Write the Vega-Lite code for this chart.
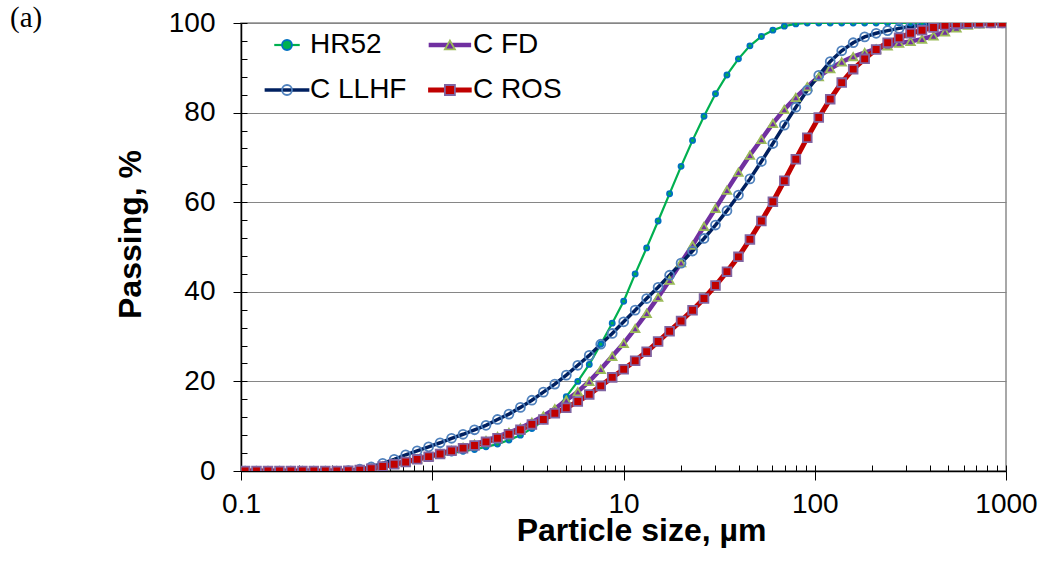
{
  "$schema": "https://vega.github.io/schema/vega-lite/v6.json",
  "width": 765,
  "height": 448,
  "autosize": {"type": "none"},
  "padding": {"left": 241, "top": 23, "right": 40, "bottom": 93},
  "background": "white",
  "title": {"text": "(a)", "anchor": "start", "frame": "group", "orient": "top", "offset": 0, "dx": -231, "dy": 53, "baseline": "bottom", "font": "Liberation Serif", "fontSize": 29, "fontWeight": "normal", "color": "black"},
  "config": {
    "view": {"stroke": "#8c8c8c", "strokeWidth": 1.5},
    "axis": {"labelFont": "Liberation Sans", "titleFont": "Liberation Sans", "labelColor": "black", "titleColor": "black"},
    "legend": {"labelFont": "Liberation Sans", "labelColor": "black", "labelFontSize": 28, "labelLimit": 300}
  },
  "data": {
    "values": [
      {"x": 0.105, "HR52": 0, "C FD": 0, "C LLHF": 0, "C ROS": 0},
      {"x": 0.1205, "HR52": 0, "C FD": 0, "C LLHF": 0, "C ROS": 0},
      {"x": 0.1384, "HR52": 0, "C FD": 0, "C LLHF": 0, "C ROS": 0},
      {"x": 0.1589, "HR52": 0, "C FD": 0, "C LLHF": 0, "C ROS": 0},
      {"x": 0.1824, "HR52": 0, "C FD": 0, "C LLHF": 0, "C ROS": 0},
      {"x": 0.2094, "HR52": 0, "C FD": 0, "C LLHF": 0, "C ROS": 0},
      {"x": 0.2404, "HR52": 0, "C FD": 0, "C LLHF": 0, "C ROS": 0},
      {"x": 0.2761, "HR52": 0, "C FD": 0, "C LLHF": 0, "C ROS": 0},
      {"x": 0.317, "HR52": 0, "C FD": 0, "C LLHF": 0, "C ROS": 0},
      {"x": 0.3639, "HR52": 0, "C FD": 0, "C LLHF": 0.1, "C ROS": 0.05},
      {"x": 0.4178, "HR52": 0.2, "C FD": 0.2, "C LLHF": 0.4, "C ROS": 0.2},
      {"x": 0.4797, "HR52": 0.6, "C FD": 0.6, "C LLHF": 0.9, "C ROS": 0.5},
      {"x": 0.5508, "HR52": 1.1, "C FD": 1.1, "C LLHF": 1.7, "C ROS": 1.0},
      {"x": 0.6324, "HR52": 1.5, "C FD": 1.6, "C LLHF": 2.6, "C ROS": 1.5},
      {"x": 0.7261, "HR52": 1.9, "C FD": 2.1, "C LLHF": 3.6, "C ROS": 2.0},
      {"x": 0.8337, "HR52": 2.4, "C FD": 2.7, "C LLHF": 4.5, "C ROS": 2.6},
      {"x": 0.9572, "HR52": 3.0, "C FD": 3.3, "C LLHF": 5.4, "C ROS": 3.2},
      {"x": 1.099, "HR52": 3.5, "C FD": 3.9, "C LLHF": 6.3, "C ROS": 3.8},
      {"x": 1.2618, "HR52": 4.0, "C FD": 4.6, "C LLHF": 7.3, "C ROS": 4.5},
      {"x": 1.4488, "HR52": 4.4, "C FD": 5.3, "C LLHF": 8.2, "C ROS": 5.1},
      {"x": 1.6634, "HR52": 4.8, "C FD": 6.0, "C LLHF": 9.2, "C ROS": 5.7},
      {"x": 1.9099, "HR52": 5.4, "C FD": 6.8, "C LLHF": 10.2, "C ROS": 6.5},
      {"x": 2.1928, "HR52": 6.0, "C FD": 7.7, "C LLHF": 11.5, "C ROS": 7.3},
      {"x": 2.5177, "HR52": 6.9, "C FD": 8.6, "C LLHF": 12.7, "C ROS": 8.2},
      {"x": 2.8907, "HR52": 8.0, "C FD": 9.6, "C LLHF": 14.2, "C ROS": 9.2},
      {"x": 3.3189, "HR52": 9.5, "C FD": 10.9, "C LLHF": 15.8, "C ROS": 10.4},
      {"x": 3.8107, "HR52": 11.2, "C FD": 12.3, "C LLHF": 17.6, "C ROS": 11.5},
      {"x": 4.3752, "HR52": 13.4, "C FD": 13.9, "C LLHF": 19.4, "C ROS": 12.9},
      {"x": 5.0234, "HR52": 16.6, "C FD": 15.8, "C LLHF": 21.4, "C ROS": 14.1},
      {"x": 5.7677, "HR52": 20.0, "C FD": 17.7, "C LLHF": 23.6, "C ROS": 15.5},
      {"x": 6.6222, "HR52": 23.8, "C FD": 20.0, "C LLHF": 25.8, "C ROS": 17.1},
      {"x": 7.6033, "HR52": 28.3, "C FD": 22.7, "C LLHF": 28.3, "C ROS": 19.0},
      {"x": 8.7297, "HR52": 33.0, "C FD": 25.6, "C LLHF": 30.7, "C ROS": 20.9},
      {"x": 10.023, "HR52": 37.9, "C FD": 28.5, "C LLHF": 33.3, "C ROS": 22.7},
      {"x": 11.508, "HR52": 44.0, "C FD": 31.8, "C LLHF": 35.9, "C ROS": 24.6},
      {"x": 13.213, "HR52": 49.8, "C FD": 35.2, "C LLHF": 38.5, "C ROS": 26.6},
      {"x": 15.171, "HR52": 55.8, "C FD": 38.8, "C LLHF": 41.0, "C ROS": 28.9},
      {"x": 17.419, "HR52": 61.9, "C FD": 42.6, "C LLHF": 43.7, "C ROS": 31.2},
      {"x": 19.999, "HR52": 68.0, "C FD": 46.5, "C LLHF": 46.4, "C ROS": 33.5},
      {"x": 22.963, "HR52": 73.8, "C FD": 50.4, "C LLHF": 49.1, "C ROS": 35.9},
      {"x": 26.363, "HR52": 79.2, "C FD": 54.6, "C LLHF": 51.9, "C ROS": 38.5},
      {"x": 30.269, "HR52": 84.2, "C FD": 58.6, "C LLHF": 54.9, "C ROS": 41.4},
      {"x": 34.754, "HR52": 88.4, "C FD": 62.7, "C LLHF": 58.1, "C ROS": 44.5},
      {"x": 39.902, "HR52": 92.0, "C FD": 66.7, "C LLHF": 61.6, "C ROS": 47.8},
      {"x": 45.814, "HR52": 94.9, "C FD": 70.5, "C LLHF": 65.2, "C ROS": 51.7},
      {"x": 52.602, "HR52": 97.0, "C FD": 74.0, "C LLHF": 69.1, "C ROS": 55.8},
      {"x": 60.395, "HR52": 98.4, "C FD": 77.6, "C LLHF": 73.1, "C ROS": 60.1},
      {"x": 69.343, "HR52": 99.3, "C FD": 80.7, "C LLHF": 77.2, "C ROS": 64.8},
      {"x": 79.616, "HR52": 99.8, "C FD": 83.4, "C LLHF": 81.2, "C ROS": 69.6},
      {"x": 91.411, "HR52": 100, "C FD": 85.8, "C LLHF": 85.0, "C ROS": 74.4},
      {"x": 104.95, "HR52": 100, "C FD": 88.0, "C LLHF": 88.3, "C ROS": 78.9},
      {"x": 120.5, "HR52": 100, "C FD": 89.8, "C LLHF": 91.4, "C ROS": 83.0},
      {"x": 138.36, "HR52": 100, "C FD": 91.3, "C LLHF": 93.8, "C ROS": 86.7},
      {"x": 158.85, "HR52": 100, "C FD": 92.5, "C LLHF": 95.6, "C ROS": 89.7},
      {"x": 182.39, "HR52": 100, "C FD": 93.4, "C LLHF": 96.9, "C ROS": 92.0},
      {"x": 209.41, "HR52": 100, "C FD": 94.2, "C LLHF": 97.7, "C ROS": 94.1},
      {"x": 240.44, "HR52": 100, "C FD": 94.9, "C LLHF": 98.3, "C ROS": 95.6},
      {"x": 276.06, "HR52": 100, "C FD": 95.5, "C LLHF": 98.8, "C ROS": 96.7},
      {"x": 316.96, "HR52": 100, "C FD": 95.9, "C LLHF": 99.2, "C ROS": 97.7},
      {"x": 363.92, "HR52": 100, "C FD": 96.4, "C LLHF": 99.5, "C ROS": 98.4},
      {"x": 417.83, "HR52": 100, "C FD": 97.1, "C LLHF": 99.7, "C ROS": 99.0},
      {"x": 479.73, "HR52": 100, "C FD": 98.0, "C LLHF": 99.8, "C ROS": 99.5},
      {"x": 550.81, "HR52": 100, "C FD": 98.9, "C LLHF": 99.9, "C ROS": 99.8},
      {"x": 632.41, "HR52": 100, "C FD": 99.5, "C LLHF": 100, "C ROS": 99.9},
      {"x": 726.11, "HR52": 100, "C FD": 99.8, "C LLHF": 100, "C ROS": 100},
      {"x": 833.68, "HR52": 100, "C FD": 100, "C LLHF": 100, "C ROS": 100},
      {"x": 957.19, "HR52": 100, "C FD": 100, "C LLHF": 100, "C ROS": 100}
    ]
  },
  "transform": [
    {"fold": ["HR52", "C FD", "C LLHF", "C ROS"], "as": ["series", "y"]}
  ],
  "layer": [
    {
      "mark": {"type": "line", "clip": true},
      "encoding": {
        "x": {
          "field": "x", "type": "quantitative",
          "scale": {"type": "log", "domain": [0.1, 1000]},
          "axis": {
            "values": [0.1, 1, 10, 100, 1000], "format": "~g",
            "labelFlush": false, "labelOverlap": false, "labelFontSize": 28,
            "tickSize": 9, "tickColor": "black", "tickWidth": 1,
            "labelPadding": 10, "domainColor": "black", "domainWidth": 1.5,
            "grid": false,
            "title": "Particle size, µm", "titleFontSize": 32, "titleFontWeight": "bold",
            "titleX": 400, "titleY": 44
          }
        },
        "y": {
          "field": "y", "type": "quantitative",
          "scale": {"domain": [0, 100]},
          "axis": {
            "values": [0, 20, 40, 60, 80, 100],
            "labelFlush": false, "labelOverlap": false, "labelFontSize": 28,
            "tickSize": 8, "tickColor": "black", "tickWidth": 1,
            "labelPadding": 18, "domainColor": "black", "domainWidth": 1.5,
            "grid": true, "gridColor": "#868686", "gridWidth": 1,
            "title": "Passing, %", "titleFontSize": 32, "titleFontWeight": "bold",
            "titlePadding": 21, "titleY": 211
          }
        },
        "color": {
          "field": "series", "type": "nominal",
          "scale": {"domain": ["HR52", "C LLHF", "C FD", "C ROS"], "range": ["#00B050", "#002060", "#7030A0", "#C00000"]},
          "legend": {
            "orient": "none", "legendX": 8, "legendY": 8, "columns": 2, "title": null, "padding": 0,
            "symbolType": "M-5,0H5", "symbolSize": 70.56,
            "encode": {"symbols": {"update": {"size": {"value": 70.56}}}},
            "symbolOffset": 24, "labelOffset": 9, "labelOpacity": 0,
            "columnPadding": 4.9, "rowPadding": 17
          }
        },
        "strokeWidth": {
          "field": "series", "type": "nominal",
          "scale": {"type": "ordinal", "domain": ["HR52", "C LLHF", "C FD", "C ROS"], "range": [2.2, 3.5, 4.5, 5]}
        }
      }
    },
    {
      "mark": {"type": "point", "opacity": 1, "strokeWidth": 1.8, "clip": true},
      "encoding": {
        "x": {
          "field": "x", "type": "quantitative",
          "axis": {
            "orient": "bottom",
            "values": [0.1, 0.2, 0.3, 0.4, 0.5, 0.6, 0.7, 0.8, 0.9, 1, 2, 3, 4, 5, 6, 7, 8, 9, 10, 20, 30, 40, 50, 60, 70, 80, 90, 100, 200, 300, 400, 500, 600, 700, 800, 900, 1000],
            "labels": false, "domain": false, "grid": false, "title": null,
            "tickSize": -6, "tickColor": "black", "tickWidth": 1
          }
        },
        "y": {
          "field": "y", "type": "quantitative",
          "axis": {
            "orient": "left",
            "values": [0, 4, 8, 12, 16, 20, 24, 28, 32, 36, 40, 44, 48, 52, 56, 60, 64, 68, 72, 76, 80, 84, 88, 92, 96, 100],
            "labels": false, "domain": false, "grid": false, "title": null,
            "tickSize": -6, "tickColor": "black", "tickWidth": 1
          }
        },
        "shape": {
          "field": "series", "type": "nominal",
          "scale": {"domain": ["HR52", "C LLHF", "C FD", "C ROS"], "range": ["circle", "circle", "triangle-up", "square"]},
          "legend": {
            "orient": "top-left", "offset": 8, "padding": 0, "columns": 2, "title": null,
            "symbolOffset": 24, "labelOffset": 9,
            "columnPadding": 4.9, "rowPadding": 17, "symbolStrokeWidth": 1.8
          }
        },
        "fill": {
          "field": "series", "type": "nominal",
          "scale": {"domain": ["HR52", "C LLHF", "C FD", "C ROS"], "range": ["#00B050", "transparent", "#7030A0", "#C00000"]}
        },
        "stroke": {
          "field": "series", "type": "nominal",
          "scale": {"domain": ["HR52", "C LLHF", "C FD", "C ROS"], "range": ["#0070C0", "#4F81BD", "#9BBB59", "#8064A2"]}
        },
        "size": {
          "field": "series", "type": "nominal",
          "scale": {"type": "ordinal", "domain": ["HR52", "C LLHF", "C FD", "C ROS"], "range": [26, 80, 72, 76]}
        }
      }
    }
  ],
  "resolve": {"axis": {"x": "independent", "y": "independent"}}
}
